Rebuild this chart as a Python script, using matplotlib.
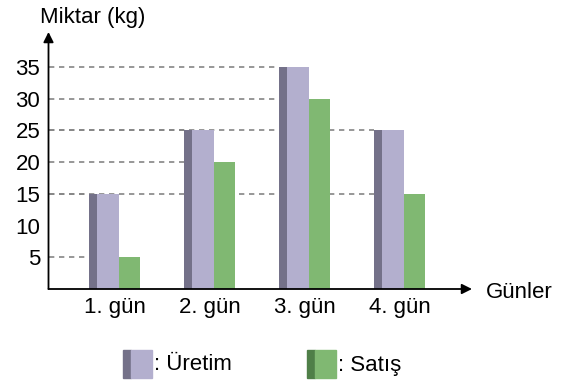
import matplotlib
matplotlib.use("Agg")
import matplotlib.pyplot as plt
from matplotlib.patches import Rectangle
import numpy as np

plt.rcParams["font.family"] = ["Liberation Sans", "DejaVu Sans"]

days = ["1. gün", "2. gün", "3. gün", "4. gün"]
uretim = [15, 25, 35, 25]
satis = [5, 20, 30, 15]
y_ticks = [5, 10, 15, 20, 25, 30, 35]

SIDE = "#747189"
PURPLE = "#b3afce"
GREEN = "#80b872"
DARK_GREEN = "#4f7f48"
GRID = "#858585"
FS = 16

W, H = 571, 385
fig = plt.figure(figsize=(W / 100, H / 100), dpi=100)
ax = fig.add_axes([48.5 / W, (H - 289) / H, (472 - 48.5) / W, (289 - 32) / H])
ax.set_xlim(-0.695, 3.763)
ax.set_ylim(0, 40.5)

x = np.arange(len(days))
side_c, side_w = -0.226, 0.084
front_c, front_w = -0.068, 0.231
green_c, green_w = 0.157, 0.221

ax.bar(x + side_c, uretim, width=side_w, color=SIDE, zorder=3)
ax.bar(x + front_c, uretim, width=front_w, color=PURPLE, zorder=3)
ax.bar(x + green_c, satis, width=green_w, color=GREEN, zorder=2)

# dashed guide from the axis to the left edge of each bar
for i in x:
    ax.plot([-0.695, i + side_c - side_w / 2], [uretim[i]] * 2,
            ls=(0, (3.2, 2.8)), color=GRID, lw=1.2, zorder=1)
    ax.plot([-0.695, i + green_c - green_w / 2], [satis[i]] * 2,
            ls=(0, (3.2, 2.8)), color=GRID, lw=1.2, zorder=1)

for s in ax.spines.values():
    s.set_visible(False)
arrow = dict(arrowstyle="-|>", lw=1.3, color="black", mutation_scale=15,
             shrinkA=0, shrinkB=0)
ax.annotate("", xy=(1, 0), xytext=(0, 0), xycoords="axes fraction",
            arrowprops=arrow, annotation_clip=False)
ax.annotate("", xy=(0, 1), xytext=(0, 0), xycoords="axes fraction",
            arrowprops=arrow, annotation_clip=False)

ax.set_yticks(y_ticks)
ax.set_xticks(x)
ax.set_xticklabels(days)
ax.tick_params(axis="both", length=0, labelsize=FS)
ax.tick_params(axis="y", pad=6)
ax.tick_params(axis="x", pad=6)

fig.text(40 / W, 1 - 17 / H, "Miktar (kg)", fontsize=FS, ha="left", va="center")
fig.text(486 / W, 1 - 292 / H, "Günler", fontsize=FS, ha="left", va="center")

# legend swatches
def swatch(x0, dark, light, label):
    fig.add_artist(Rectangle((x0 / W, 1 - 378 / H), 8 / W, 28 / H,
                             transform=fig.transFigure, color=dark))
    fig.add_artist(Rectangle(((x0 + 8) / W, 1 - 378 / H), 21 / W, 28 / H,
                             transform=fig.transFigure, color=light))
    fig.text((x0 + 31) / W, 1 - 365 / H, label, fontsize=FS,
             ha="left", va="center")

swatch(123, SIDE, PURPLE, ": Üretim")
swatch(307, DARK_GREEN, GREEN, ": Satış")

fig.savefig("out.png", dpi=100)
